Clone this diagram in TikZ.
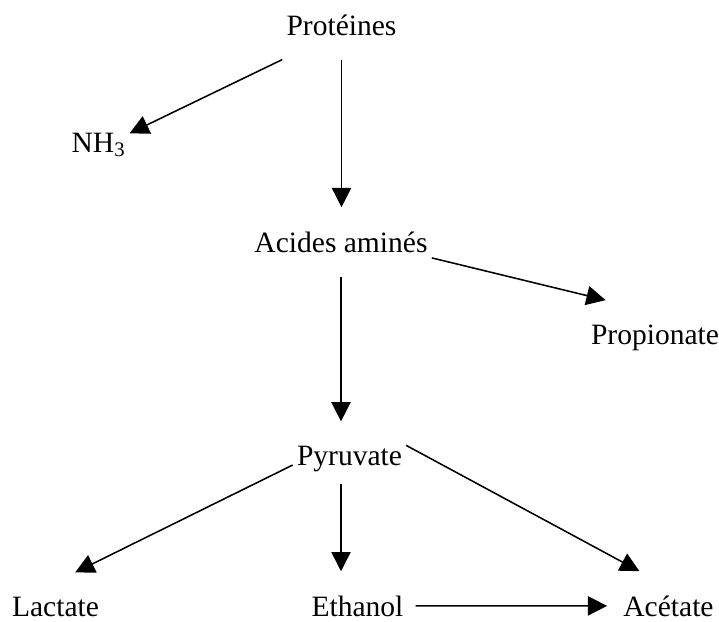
\documentclass[tikz,border=0pt]{standalone}
\usepackage{fontspec}
\setmainfont{Liberation Serif}
\usetikzlibrary{arrows.meta}

\begin{document}
\begin{tikzpicture}[
  x=0.025cm, y=-0.025cm,
  compound/.style={font=\fontsize{21}{25}\selectfont, anchor=base, inner xsep=0.1cm, inner ysep=0.6cm},
  arrow/.style={-{Triangle[length=4.8mm, width=4.8mm]}, line width=1.1pt}
]
  \useasboundingbox (0,0) rectangle (719,621);

  % Compounds
  \node[compound] (prot)   at (341.5, 35)  {Protéines};
  \node[compound] (nh3)    at (98.5, 152)  {NH\textsubscript{3}};
  \node[compound] (acides) at (341, 252)   {Acides aminés};
  \node[compound] (prop)   at (655, 344)   {Propionate};
  \node[compound] (pyr)    at (349.5, 465) {Pyruvate};
  \node[compound] (lact)   at (55.5, 616)  {Lactate};
  \node[compound] (eth)    at (357.5, 616) {Ethanol};
  \node[compound] (acet)   at (668.5, 616) {Acétate};

  % Degradation of proteins
  \draw[arrow] (prot.south west) -- (nh3.20);
  \draw[arrow] (prot.south) -- (prot.south |- acides.north);
  \draw[arrow] (acides.-10) -- (prop.143);
  \draw[arrow] (acides.south) -- (acides.south |- pyr.north);

  % Fate of pyruvate
  \draw[arrow] (pyr.base west) -- (lact.60);
  \draw[arrow] ([yshift=0.3cm]pyr.south -| acides.south) -- (eth.north -| acides.south);
  \draw[arrow] (pyr.13) -- (acet.130);
  \draw[arrow, shorten <=0.2cm, shorten >=0.3cm] (eth.east) -- (acet.west);
\end{tikzpicture}
\end{document}
